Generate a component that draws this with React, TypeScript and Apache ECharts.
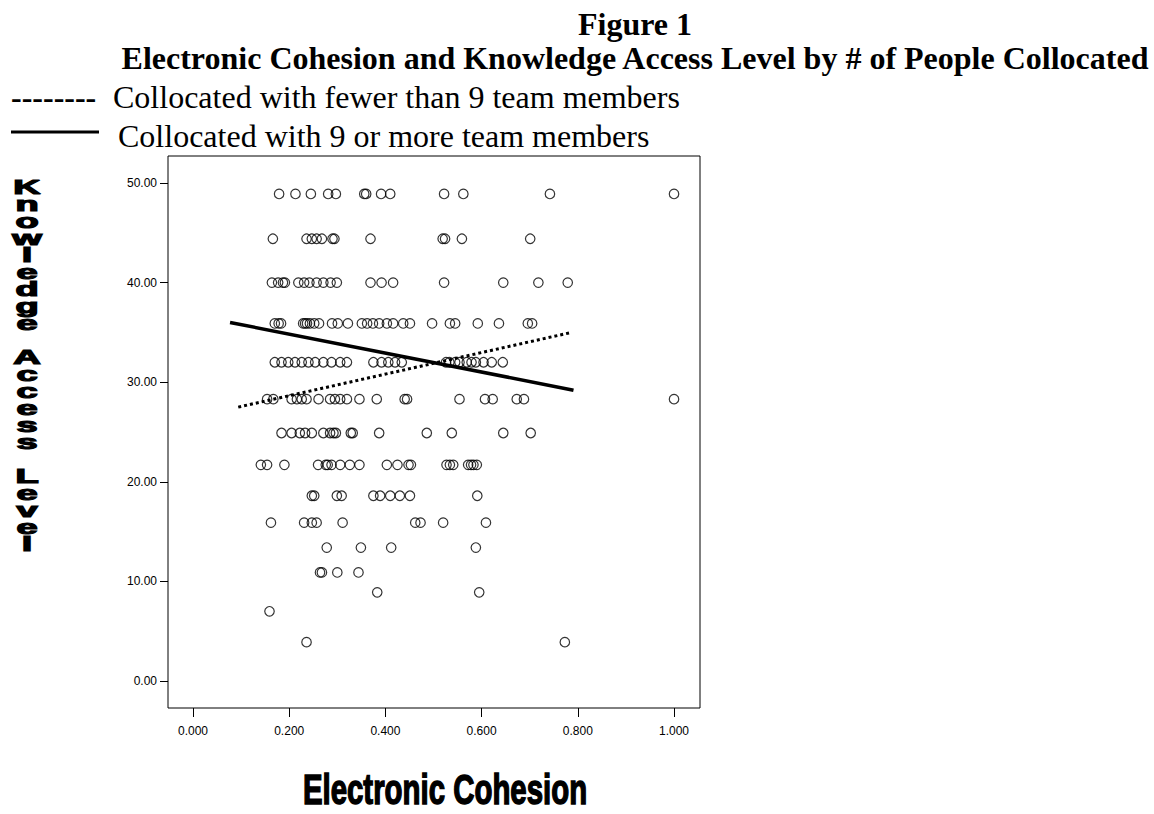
import React, { useEffect, useRef } from "react";
import * as echarts from "echarts";

// Knowledge access levels (y) at which observations sit
const knowledgeLevels = [48.9, 44.4, 40.0, 35.9, 32.0, 28.3, 24.9, 21.7, 18.6, 15.9, 13.4, 10.9, 8.9, 7.0, 3.9];

// Electronic cohesion values (x) observed at each knowledge level
const cohesionAt489 = [0.179, 0.213, 0.245, 0.281, 0.297, 0.356, 0.36, 0.391, 0.41, 0.522, 0.562, 0.742, 1.0];
const cohesionAt444 = [0.166, 0.236, 0.247, 0.257, 0.268, 0.29, 0.294, 0.369, 0.519, 0.524, 0.559, 0.701];
const cohesionAt400 = [0.164, 0.177, 0.187, 0.191, 0.219, 0.231, 0.242, 0.257, 0.271, 0.286, 0.299, 0.369, 0.392, 0.416, 0.522, 0.645, 0.718, 0.779];
const cohesionAt359 = [0.17, 0.178, 0.183, 0.229, 0.233, 0.237, 0.243, 0.252, 0.262, 0.289, 0.301, 0.322, 0.351, 0.362, 0.374, 0.387, 0.403, 0.416, 0.437, 0.451, 0.497, 0.534, 0.545, 0.592, 0.636, 0.696, 0.705];
const cohesionAt320 = [0.17, 0.184, 0.198, 0.212, 0.226, 0.24, 0.254, 0.271, 0.288, 0.306, 0.32, 0.375, 0.392, 0.406, 0.42, 0.434, 0.526, 0.533, 0.545, 0.554, 0.569, 0.579, 0.588, 0.604, 0.621, 0.644];
const cohesionAt283 = [0.154, 0.167, 0.205, 0.216, 0.226, 0.236, 0.261, 0.285, 0.295, 0.306, 0.32, 0.346, 0.382, 0.44, 0.445, 0.554, 0.607, 0.623, 0.673, 0.688, 1.0];
const cohesionAt249 = [0.184, 0.205, 0.222, 0.233, 0.247, 0.271, 0.285, 0.292, 0.297, 0.328, 0.332, 0.387, 0.486, 0.538, 0.645, 0.702];
const cohesionAt217 = [0.141, 0.154, 0.19, 0.26, 0.276, 0.28, 0.288, 0.306, 0.326, 0.346, 0.403, 0.425, 0.448, 0.453, 0.527, 0.534, 0.541, 0.572, 0.578, 0.583, 0.59];
const cohesionAt186 = [0.247, 0.252, 0.299, 0.309, 0.375, 0.389, 0.41, 0.43, 0.451, 0.591];
const cohesionAt159 = [0.162, 0.231, 0.247, 0.257, 0.311, 0.462, 0.473, 0.52, 0.609];
const cohesionAt134 = [0.278, 0.349, 0.412, 0.588];
const cohesionAt109 = [0.264, 0.268, 0.3, 0.344];
const cohesionAt89 = [0.383, 0.595];
const cohesionAt70 = [0.159];
const cohesionAt39 = [0.236, 0.773];

const cohesionByLevel = [
  cohesionAt489, cohesionAt444, cohesionAt400, cohesionAt359, cohesionAt320,
  cohesionAt283, cohesionAt249, cohesionAt217, cohesionAt186, cohesionAt159,
  cohesionAt134, cohesionAt109, cohesionAt89, cohesionAt70, cohesionAt39,
];

// Fit lines for the two collocation groups (endpoints)
const fewerFitX = [0.094, 0.787];
const fewerFitY = [27.5, 35.0];
const moreFitX = [0.077, 0.791];
const moreFitY = [36.0, 29.2];

// Tick positions
const xTicks = [0, 0.2, 0.4, 0.6, 0.8, 1.0];
const yTicks = [0, 10, 20, 30, 40, 50];

const titleLines = [
  "Figure 1",
  "Electronic Cohesion and Knowledge Access Level by # of People Collocated",
];
const legendLabels = [
  "Collocated with fewer than 9 team members",
  "Collocated with 9 or more team members",
];
const xAxisTitle = "Electronic Cohesion";
const yAxisTitle = "Knowledge Access Level";

const SERIF = '"Liberation Serif", "Times New Roman", serif';
const SANS = '"Liberation Sans", Arial, sans-serif';

export default function App() {
  const ref = useRef<HTMLDivElement>(null);

  useEffect(() => {
    if (!ref.current) return;
    const chart = echarts.init(ref.current, undefined, { renderer: "svg" });

    const points: number[][] = [];
    knowledgeLevels.forEach((level, i) => {
      cohesionByLevel[i].forEach((c) => points.push([c, level]));
    });

    const option: echarts.EChartsOption = {
      animation: false,
      backgroundColor: "#fff",
      grid: {
        show: true,
        left: 168,
        top: 156,
        width: 532,
        height: 552,
        borderColor: "#000",
        borderWidth: 1,
        backgroundColor: "#fff",
      },
      xAxis: {
        type: "value",
        min: -0.052,
        max: 1.054,
        axisLine: { show: false, onZero: false },
        splitLine: { show: false },
        axisTick: {
          show: true,
          customValues: xTicks,
          length: 9,
          lineStyle: { color: "#000", width: 1 },
        },
        axisLabel: {
          customValues: xTicks,
          formatter: (v: number) => v.toFixed(3),
          margin: 17,
          fontSize: 12,
          fontFamily: SANS,
          color: "#000",
        },
      },
      yAxis: {
        type: "value",
        min: -2.71,
        max: 52.71,
        axisLine: { show: false, onZero: false },
        splitLine: { show: false },
        axisTick: {
          show: true,
          customValues: yTicks,
          length: 8,
          lineStyle: { color: "#000", width: 1 },
        },
        axisLabel: {
          customValues: yTicks,
          formatter: (v: number) => v.toFixed(2),
          margin: 11,
          fontSize: 12,
          fontFamily: SANS,
          color: "#000",
        },
      },
      series: [
        {
          type: "scatter",
          data: points,
          symbol: "circle",
          symbolSize: 9.5,
          itemStyle: {
            color: "rgba(0,0,0,0)",
            borderColor: "#000",
            borderWidth: 1.2,
          },
          z: 2,
        },
        {
          type: "line",
          data: fewerFitX.map((x, i) => [x, fewerFitY[i]]),
          symbol: "none",
          lineStyle: { color: "#000", width: 3, type: [3, 3] },
          z: 3,
        },
        {
          type: "line",
          data: moreFitX.map((x, i) => [x, moreFitY[i]]),
          symbol: "none",
          lineStyle: { color: "#000", width: 3.5 },
          z: 3,
        },
      ],
      graphic: [
        {
          type: "text",
          x: 635,
          y: 24,
          style: {
            text: titleLines[0],
            align: "center",
            verticalAlign: "middle",
            fontSize: 32,
            fontWeight: "bold",
            fontFamily: SERIF,
            fill: "#000",
          },
        },
        {
          type: "text",
          x: 635,
          y: 58,
          style: {
            text: titleLines[1],
            align: "center",
            verticalAlign: "middle",
            fontSize: 32,
            fontWeight: "bold",
            fontFamily: SERIF,
            fill: "#000",
          },
        },
        {
          type: "text",
          x: 11,
          y: 97,
          style: {
            text: "--------",
            align: "left",
            verticalAlign: "middle",
            fontSize: 32,
            fontWeight: "bold",
            fontFamily: SERIF,
            fill: "#000",
          },
        },
        {
          type: "text",
          x: 113,
          y: 97,
          style: {
            text: legendLabels[0],
            align: "left",
            verticalAlign: "middle",
            fontSize: 32,
            fontFamily: SERIF,
            fill: "#000",
          },
        },
        {
          type: "line",
          shape: { x1: 11, y1: 132, x2: 99, y2: 132 },
          style: { stroke: "#000", lineWidth: 3 },
        },
        {
          type: "text",
          x: 118,
          y: 136,
          style: {
            text: legendLabels[1],
            align: "left",
            verticalAlign: "middle",
            fontSize: 32,
            fontFamily: SERIF,
            fill: "#000",
          },
        },
        {
          type: "text",
          x: 445,
          y: 790,
          scaleX: 0.7,
          style: {
            text: xAxisTitle,
            align: "center",
            verticalAlign: "middle",
            fontSize: 42,
            fontWeight: "bold",
            fontFamily: SANS,
            fill: "#000",
            stroke: "#000",
            lineWidth: 1.5,
          },
        },
        {
          type: "text",
          x: 27,
          y: 366,
          scaleX: 1.9,
          style: {
            text: yAxisTitle.split("").join("\n"),
            align: "center",
            verticalAlign: "middle",
            fontSize: 20,
            lineHeight: 17,
            fontWeight: "bold",
            fontFamily: SANS,
            fill: "#000",
            stroke: "#000",
            lineWidth: 1.2,
          },
        },
      ],
    };

    chart.setOption(option);
    return () => chart.dispose();
  }, []);

  return (
    <div
      ref={ref}
      style={{ position: "absolute", left: 0, top: 0, width: 1154, height: 814, background: "#fff" }}
    />
  );
}
